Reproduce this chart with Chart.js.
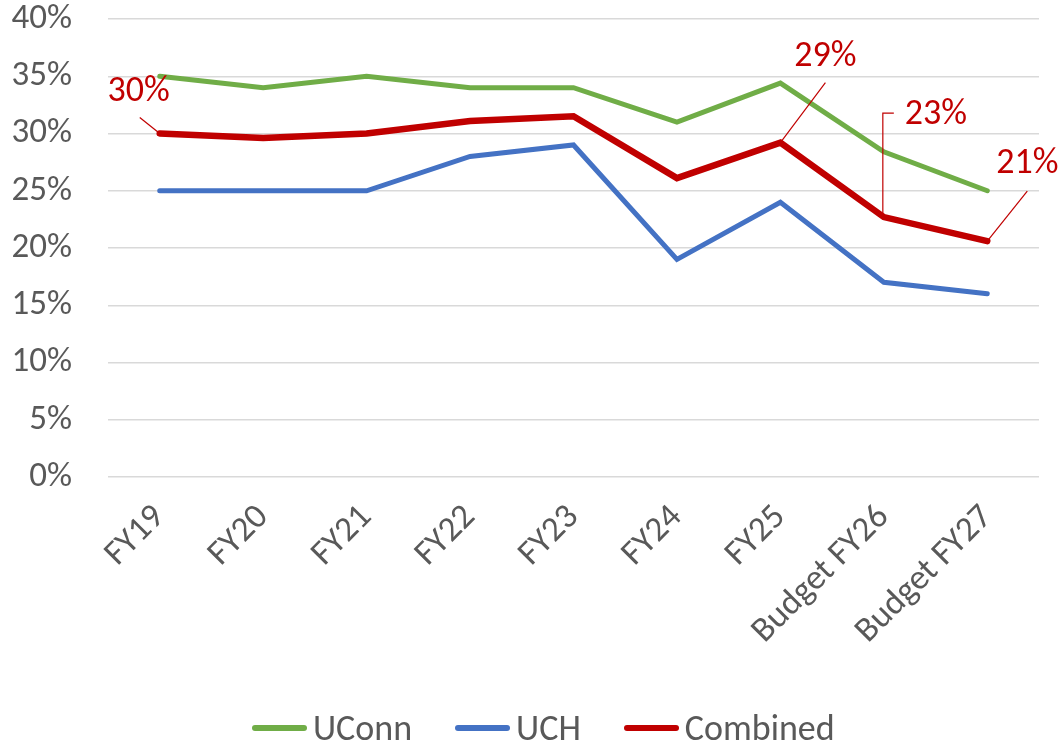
<!DOCTYPE html>
<html>
<head>
<meta charset="utf-8">
<title>UConn / UCH / Combined</title>
<script src="https://cdn.jsdelivr.net/npm/chart.js@4/dist/chart.umd.min.js"></script>
<style>
  html, body { margin: 0; padding: 0; background: #ffffff; }
  #wrap { position: relative; width: 1064px; height: 743px; overflow: hidden; }
  #chart { position: absolute; left: 0; top: 0; }
  #legend { position: absolute; left: 252px; top: 707px; height: 42px; display: flex; align-items: center;
            font-family: Carlito, Lato, sans-serif; font-size: 36px; color: #595959; white-space: nowrap; }
  .item { display: flex; align-items: center; margin-right: 43px; }
  .swatch { width: 55px; height: 6px; border-radius: 3px; margin-right: 6px; }
</style>
</head>
<body>
<div id="wrap">
  <canvas id="chart" width="1064" height="743"></canvas>
  <div id="legend"></div>
</div>
<script>
// Fiscal years on the category axis
const categories = ['FY19', 'FY20', 'FY21', 'FY22', 'FY23', 'FY24', 'FY25', 'Budget FY26', 'Budget FY27'];

// Percentages per fiscal year
const uconn    = [35, 34, 35, 34, 34, 31, 34.4, 28.4, 25];
const uch      = [25, 25, 25, 28, 29, 19, 24, 17, 16];
const combined = [30, 29.6, 30, 31.1, 31.5, 26.1, 29.2, 22.7, 20.6];

// Value axis ticks
const yTicks = [0, 5, 10, 15, 20, 25, 30, 35, 40];

const seriesNames  = ['UConn', 'UCH', 'Combined'];
const seriesColors = ['#70AD47', '#4472C4', '#C00000'];

// Which Combined points carry a value label, and where the label and its leader sit
const labelledPoints = [
  { index: 0, dx: -21, dy: -42, leader: [[0, 0], [-20, -16]] },
  { index: 6, dx: 45,  dy: -86, leader: [[0, 0], [45, -60]] },
  { index: 7, dx: 52,  dy: -102, leader: [[0, 0], [-1, -2], [-1, -104], [10, -104]] },
  { index: 8, dx: 40,  dy: -77, leader: [[0, 0], [40, -50]] }
];

const FONT = 'Carlito, Lato, sans-serif';
const TEXT = '#595959';

const valueLabels = {
  id: 'valueLabels',
  afterDatasetsDraw(chart) {
    const meta = chart.getDatasetMeta(2);
    const data = chart.data.datasets[2].data;
    const ctx = chart.ctx;
    ctx.save();
    ctx.strokeStyle = seriesColors[2];
    ctx.fillStyle = seriesColors[2];
    ctx.lineWidth = 1.2;
    ctx.font = '36px ' + FONT;
    ctx.textAlign = 'center';
    ctx.textBaseline = 'middle';
    labelledPoints.forEach(p => {
      const pt = meta.data[p.index];
      ctx.beginPath();
      p.leader.forEach(([lx, ly], k) => {
        if (k === 0) ctx.moveTo(pt.x + lx, pt.y + ly);
        else ctx.lineTo(pt.x + lx, pt.y + ly);
      });
      ctx.stroke();
      ctx.fillText(Math.round(data[p.index]) + '%', pt.x + p.dx, pt.y + p.dy);
    });
    ctx.restore();
  }
};

const seriesData = [uconn, uch, combined];
const widths = [5, 5, 6.5];

new Chart(document.getElementById('chart'), {
  type: 'line',
  data: {
    labels: categories,
    datasets: seriesNames.map((name, i) => ({
      label: name,
      data: seriesData[i],
      borderColor: seriesColors[i],
      backgroundColor: seriesColors[i],
      borderWidth: widths[i],
      borderCapStyle: 'round',
      borderJoinStyle: 'miter',
      pointRadius: 0,
      pointHoverRadius: 0,
      tension: 0,
      fill: false
    }))
  },
  options: {
    responsive: false,
    animation: false,
    events: [],
    layout: { padding: { top: 19, right: 25, left: 0, bottom: 0 } },
    plugins: {
      legend: { display: false },
      tooltip: { enabled: false }
    },
    scales: {
      x: {
        offset: true,
        grid: { display: false, drawTicks: false },
        border: { display: false },
        ticks: {
          minRotation: 45,
          maxRotation: 45,
          padding: 20,
          color: TEXT,
          font: { family: FONT, size: 35 }
        },
        afterFit(scale) { scale.height = 266; }
      },
      y: {
        min: 0,
        max: 40,
        afterBuildTicks(scale) { scale.ticks = yTicks.map(v => ({ value: v })); },
        grid: { color: '#D9D9D9', lineWidth: 1.5, drawTicks: false },
        border: { display: false },
        ticks: {
          padding: 36,
          color: TEXT,
          font: { family: FONT, size: 35 },
          callback: v => v + '%'
        },
        afterFit(scale) {
          scale.width = 108;
          scale.paddingTop = 0;
          scale.paddingBottom = 0;
        }
      }
    }
  },
  plugins: [valueLabels]
});

// Legend row built from the same series names and colours
const legend = document.getElementById('legend');
seriesNames.forEach((name, i) => {
  const item = document.createElement('div');
  item.className = 'item';
  const sw = document.createElement('div');
  sw.className = 'swatch';
  sw.style.background = seriesColors[i];
  const tx = document.createElement('span');
  tx.textContent = name;
  item.appendChild(sw);
  item.appendChild(tx);
  legend.appendChild(item);
});
</script>
</body>
</html>
